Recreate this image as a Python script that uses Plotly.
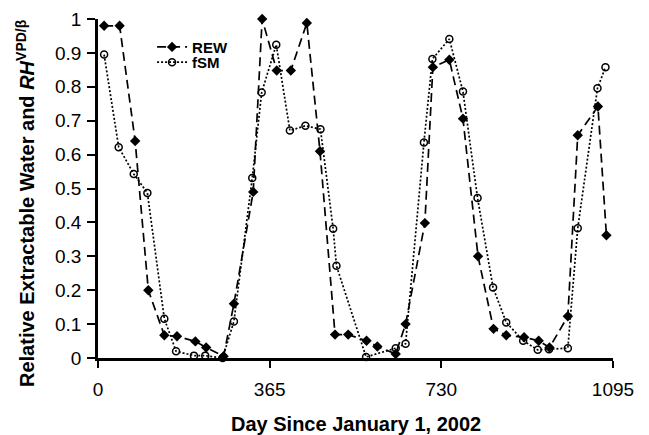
import plotly.graph_objects as go

rew_day = [13, 46, 79, 107, 141, 168, 207, 230, 267, 289, 330, 349, 380, 410, 444, 472,
           504, 532, 571, 594, 633, 654, 695, 712, 747, 776, 808, 841, 868, 906, 937, 960,
           999, 1020, 1063, 1081]
rew_val = [0.98, 0.98, 0.64, 0.20, 0.067, 0.064, 0.049, 0.031, 0.005, 0.16, 0.49, 1.0, 0.848,
           0.848, 0.988, 0.61, 0.069, 0.069, 0.051, 0.034, 0.012, 0.10, 0.398, 0.858, 0.88,
           0.706, 0.30, 0.086, 0.067, 0.061, 0.051, 0.031, 0.123, 0.657, 0.742, 0.362]

fsm_day = [13, 44, 76, 105, 141, 166, 204, 228, 265, 289, 328, 348, 379, 408, 441, 473,
           500, 507, 570, 633, 654, 693, 711, 747, 776, 807, 840, 868, 904, 935, 959, 999,
           1020, 1062, 1079]
fsm_val = [0.895, 0.622, 0.543, 0.487, 0.116, 0.02, 0.007, 0.007, 0.0, 0.108, 0.531, 0.783,
           0.924, 0.671, 0.685, 0.675, 0.381, 0.272, 0.003, 0.029, 0.042, 0.636, 0.882, 0.941,
           0.786, 0.472, 0.208, 0.105, 0.051, 0.024, 0.026, 0.029, 0.383, 0.796, 0.858]

x_ticks = [0, 365, 730, 1095]
y_ticks = [0, 0.1, 0.2, 0.3, 0.4, 0.5, 0.6, 0.7, 0.8, 0.9, 1]
y_tick_text = ["0", "0.1", "0.2", "0.3", "0.4", "0.5", "0.6", "0.7", "0.8", "0.9", "1"]

FONT = "Liberation Sans, Arial, sans-serif"
PLOT_W = 649 - 98 - 36
PLOT_H = 435 - 19 - 77

fig = go.Figure()
fig.add_trace(go.Scatter(
    x=rew_day, y=rew_val, name="<b>REW</b>", mode="lines+markers",
    line=dict(color="black", width=1.7, dash="9px,5px"),
    marker=dict(symbol="diamond", size=8, color="black"),
    cliponaxis=False, legend="legend",
))
fig.add_trace(go.Scatter(
    x=fsm_day, y=fsm_val, name="<b>fSM</b>", mode="lines+markers",
    line=dict(color="black", width=1.7, dash="2px,2px"),
    marker=dict(symbol="circle-open", size=7, color="black", line=dict(width=1.5)),
    cliponaxis=False, legend="legend2",
))

legend_common = dict(xanchor="left", yanchor="middle", bgcolor="rgba(0,0,0,0)",
                     font=dict(size=15, family=FONT), itemwidth=30,
                     borderwidth=0)

fig.update_layout(
    width=649, height=435,
    margin=dict(l=98, r=36, t=19, b=77),
    paper_bgcolor="white", plot_bgcolor="white",
    font=dict(family=FONT, color="black"),
    showlegend=True,
    legend=dict(x=0.105, y=0.917, **legend_common),
    legend2=dict(x=0.105, y=0.872, **legend_common),
    xaxis=dict(
        range=[0, 1095], tickvals=x_ticks, ticktext=[str(v) for v in x_ticks],
        showgrid=False, zeroline=False, showline=True, linecolor="black", linewidth=2.5,
        ticks="outside", ticklen=7, tickwidth=2, tickcolor="black",
        ticklabelstandoff=5, automargin=False,
        tickfont=dict(size=19, family=FONT),
    ),
    yaxis=dict(
        range=[0, 1], tickvals=y_ticks, ticktext=y_tick_text,
        showgrid=False, zeroline=False, showline=True, linecolor="black", linewidth=2.5,
        ticks="outside", ticklen=8, tickwidth=2, tickcolor="black",
        ticklabelstandoff=2, automargin=False,
        tickfont=dict(size=19, family=FONT),
    ),
    annotations=[
        dict(
            text="<b>Relative Extractable Water and <i>RH</i><sup>VPD/β</sup></b>",
            xref="paper", yref="paper", x=-73 / PLOT_W, y=(358 - 203) / PLOT_H,
            xanchor="center", yanchor="middle", textangle=-90, showarrow=False,
            font=dict(size=20, family=FONT, color="black"),
        ),
        dict(
            text="<b>Day Since January 1, 2002</b>",
            xref="paper", yref="paper", x=0.5, y=(358 - 424) / PLOT_H,
            xanchor="center", yanchor="middle", showarrow=False,
            font=dict(size=20, family=FONT, color="black"),
        ),
    ],
)

fig.write_html("out.html")
